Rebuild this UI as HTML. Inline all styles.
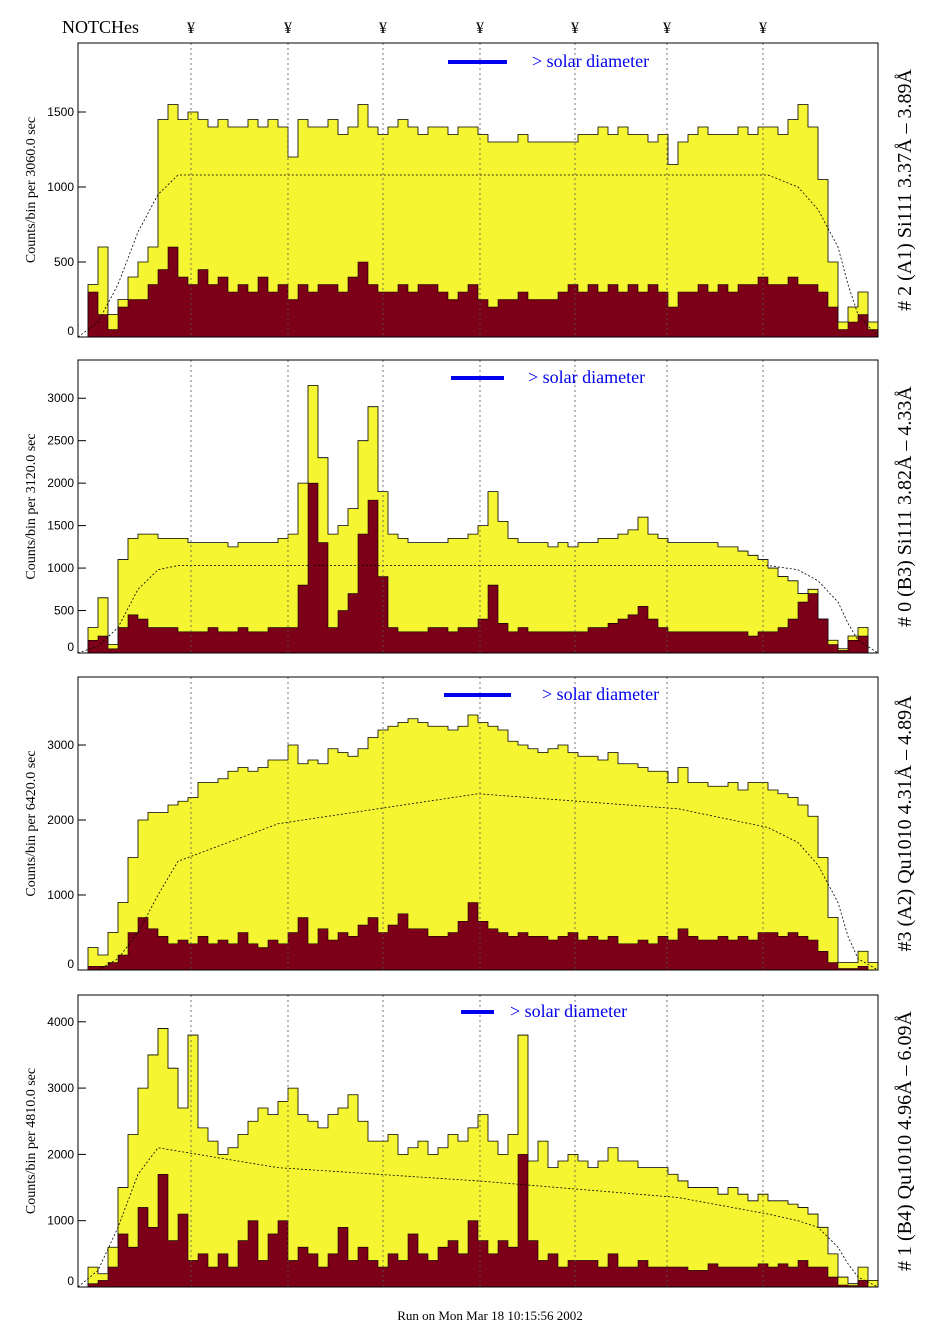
<!DOCTYPE html>
<html><head><meta charset="utf-8">
<style>
html,body{margin:0;padding:0;background:#fff;}
svg{display:block;}
.tick{font-family:"Liberation Sans",sans-serif;font-size:12px;fill:#000;}
.ser{font-family:"Liberation Serif",serif;}
</style></head>
<body>
<svg id="chart" width="937" height="1330" viewBox="0 0 937 1330" xmlns="http://www.w3.org/2000/svg">
<text x="62" y="33" class="ser" font-size="18">NOTCHes</text>
<text x="490" y="1320" class="ser" font-size="13" text-anchor="middle">Run on Mon Mar 18 10:15:56 2002</text>
</svg>
<script>
const notchX = [11.3, 21, 30.5, 40.2, 49.7, 58.9, 68.5]; // in bin units
const p1Total=[0,350,600,150,250,400,500,600,1450,1550,1450,1500,1450,1400,1450,1400,1400,1450,1400,1450,1400,1200,1450,1400,1400,1450,1350,1400,1550,1400,1350,1400,1450,1400,1350,1400,1400,1350,1400,1400,1350,1300,1300,1300,1350,1300,1300,1300,1300,1300,1350,1350,1400,1350,1400,1350,1350,1300,1350,1150,1300,1350,1400,1350,1350,1350,1400,1350,1400,1400,1350,1450,1550,1400,1050,500,100,200,300,100];
const p1Sub=[0,300,150,50,200,250,250,350,450,600,400,350,450,350,400,300,350,300,400,300,350,250,350,300,350,350,300,400,500,350,300,300,350,300,350,350,300,250,300,350,250,200,250,250,300,250,250,250,300,350,300,350,300,350,300,350,300,350,300,200,300,300,350,300,350,300,350,350,400,350,350,400,350,350,300,200,50,100,150,50];
const p2Total=[0,300,650,100,1100,1350,1400,1400,1350,1350,1350,1300,1300,1300,1300,1250,1300,1300,1300,1300,1350,1400,2000,3150,2300,1400,1500,1700,2500,2900,1900,1400,1350,1300,1300,1300,1300,1350,1350,1400,1500,1900,1550,1350,1300,1300,1300,1250,1300,1250,1300,1300,1350,1350,1400,1450,1600,1400,1350,1300,1300,1300,1300,1300,1250,1250,1200,1150,1100,1000,900,850,700,750,400,150,50,200,300,0];
const p2Sub=[0,150,200,50,300,450,400,300,300,300,250,250,250,300,250,250,300,250,250,300,300,300,800,2000,1300,300,500,700,1400,1800,900,300,250,250,250,300,300,250,300,300,400,800,350,250,300,250,250,250,250,250,250,300,300,350,400,450,550,400,300,250,250,250,250,250,250,250,250,200,250,250,300,400,600,700,400,100,30,150,200,0];
const p3Total=[0,300,200,500,900,1500,2000,2100,2100,2200,2250,2300,2500,2500,2550,2650,2700,2650,2700,2800,2800,3000,2750,2800,2750,2950,2900,2850,2950,3100,3200,3250,3300,3350,3300,3250,3250,3200,3250,3400,3300,3250,3200,3050,3000,2950,2900,2950,3000,2900,2850,2850,2800,2900,2750,2750,2700,2650,2650,2500,2700,2500,2500,2450,2450,2500,2400,2500,2500,2400,2350,2300,2200,2050,1500,700,100,100,250,100];
const p3Sub=[0,50,50,100,200,500,700,550,450,350,400,350,450,350,400,350,500,350,300,400,350,500,700,350,550,400,500,450,600,700,500,600,750,550,550,450,450,500,650,900,650,550,500,450,500,450,450,400,450,500,400,450,400,450,350,350,400,350,450,400,550,450,400,400,450,400,450,400,500,500,450,500,450,400,250,100,20,20,50,0];
const p4Total=[0,300,200,600,1500,2300,3000,3500,3900,3300,2700,3800,2400,2200,2000,2100,2300,2500,2700,2600,2800,3000,2600,2500,2400,2600,2700,2900,2500,2200,2200,2300,2000,2100,2200,2000,2100,2300,2200,2400,2600,2200,2000,2300,3800,1900,2200,1800,1900,2000,1900,1800,1900,2100,1900,1900,1800,1800,1800,1700,1600,1500,1500,1500,1400,1500,1400,1300,1400,1300,1300,1250,1200,1100,900,500,150,50,300,100];
const p4Sub=[0,50,100,300,800,600,1200,900,1700,700,1100,400,500,300,500,300,700,1000,400,800,1000,400,600,500,300,500,900,400,600,400,300,500,400,800,500,400,600,700,500,1000,700,500,700,600,2000,700,400,500,300,400,400,400,300,500,300,300,400,300,300,300,300,250,250,350,300,300,300,300,350,300,350,300,400,300,300,150,30,20,100,0];
const curveBins=[0,2,4,6,8,10,20,40,60,69,72,74,76,77,78,80];
const p1Curve=[0,100,350,700,950,1080,1080,1080,1080,1080,1000,850,600,350,150,0];
const p2Curve=[0,80,300,750,980,1030,1030,1030,1030,1030,980,850,600,350,150,0];
const p3Curve=[0,0,150,500,1000,1450,1950,2350,2150,1900,1700,1400,900,450,150,0];
const p4Curve=[0,250,900,1700,2100,2050,1800,1600,1350,1100,1000,900,600,350,150,0];
const p1Ticks=[0,500,1000,1500], p2Ticks=[0,500,1000,1500,2000,2500,3000], p3Ticks=[0,1000,2000,3000], p4Ticks=[0,1000,2000,3000,4000];
const panels=[
 {tot:p1Total,sub:p1Sub,cur:p1Curve,ticks:p1Ticks,top:43,bot:337,max:1960,secs:"3060.0",right:"# 2 (A1) Si111  3.37Å – 3.89Å",barX:[448,507],barY:62,solX:532},
 {tot:p2Total,sub:p2Sub,cur:p2Curve,ticks:p2Ticks,top:360,bot:653,max:3450,secs:"3120.0",right:"# 0 (B3) Si111  3.82Å – 4.33Å",barX:[451,504],barY:378,solX:528},
 {tot:p3Total,sub:p3Sub,cur:p3Curve,ticks:p3Ticks,top:677,bot:970,max:3907,secs:"6420.0",right:"#3 (A2) Qu1010  4.31Å – 4.89Å",barX:[444,511],barY:695,solX:542},
 {tot:p4Total,sub:p4Sub,cur:p4Curve,ticks:p4Ticks,top:995,bot:1287,max:4404,secs:"4810.0",right:"# 1 (B4) Qu1010 4.96Å – 6.09Å",barX:[461,494],barY:1012,solX:510}
];
const NS="http://www.w3.org/2000/svg";
const svg=document.getElementById('chart');
const X0=78,X1=878,NB=80,BW=(X1-X0)/NB;
function xs(b){return X0+b*BW;}
function mk(tag,attrs,parent){const e=document.createElementNS(NS,tag);for(const k in attrs)e.setAttribute(k,attrs[k]);(parent||svg).appendChild(e);return e;}
notchX.forEach((n,i)=>{const t=mk('text',{x:xs(n),y:33,'text-anchor':'middle','font-size':16,class:'ser'});t.textContent='¥';

});
panels.forEach((p,pi)=>{
 const ys=v=>p.bot-(v/p.max)*(p.bot-p.top);
 const g=mk('g',{});
 
 
 function step(arr){let d='M'+xs(0)+','+p.bot;arr.forEach((v,i)=>{d+=' L'+xs(i)+','+ys(v)+' L'+xs(i+1)+','+ys(v);});d+=' L'+xs(arr.length)+','+p.bot+' Z';return d;}
 const a=mk('path',{d:step(p.tot),fill:'#f5f531',stroke:'#000','stroke-width':0.8},g);
 
 
 const b=mk('path',{d:step(p.sub),fill:'#7d0019',stroke:'#000','stroke-width':0.6},g);
 
 
 let d='';curveBins.forEach((cb,i)=>{d+=(i?' L':'M')+xs(cb)+','+ys(p.cur[i]);});
 const c=mk('path',{d:d,fill:'none',stroke:'#000','stroke-width':0.8,'stroke-dasharray':'2,2'},g);
 
 
 notchX.forEach(n=>{const l=mk('line',{x1:xs(n),x2:xs(n),y1:p.top,y2:p.bot,stroke:'#555','stroke-width':0.8,'stroke-dasharray':'2,3'},g);
 
 });
 const f=mk('rect',{x:X0,y:p.top,width:X1-X0,height:p.bot-p.top,fill:'none',stroke:'#000','stroke-width':1},g);
 
 
 p.ticks.forEach(tv=>{const y=ys(tv);mk('line',{x1:X0,x2:X0+8,y1:y,y2:y,stroke:'#000'},g);
 const t=mk('text',{x:X0-4,y:Math.min(y+4,p.bot-2),'text-anchor':'end',class:'tick'},g);t.textContent=tv;
 
 });
 const yc=(p.top+p.bot)/2;
 const yt=mk('text',{x:0,y:0,transform:`translate(35,${yc}) rotate(-90)`,'text-anchor':'middle','font-size':14,class:'ser'},g);
 yt.textContent='Counts/bin per    '+p.secs+' sec';
 
 
 const rt=mk('text',{x:0,y:0,transform:`translate(911,${yc}) rotate(-90)`,'text-anchor':'middle','font-size':20,class:'ser'},g);
 rt.textContent=p.right;
 
 
 const sb=mk('line',{x1:p.barX[0],x2:p.barX[1],y1:p.barY,y2:p.barY,stroke:'#0000ee','stroke-width':4},g);
 
 
 const st=mk('text',{x:p.solX,y:p.barY+5,fill:'#0000ee','font-size':18,class:'ser'},g);
 st.textContent='> solar diameter';
 
 
});
</script>
</body></html>
